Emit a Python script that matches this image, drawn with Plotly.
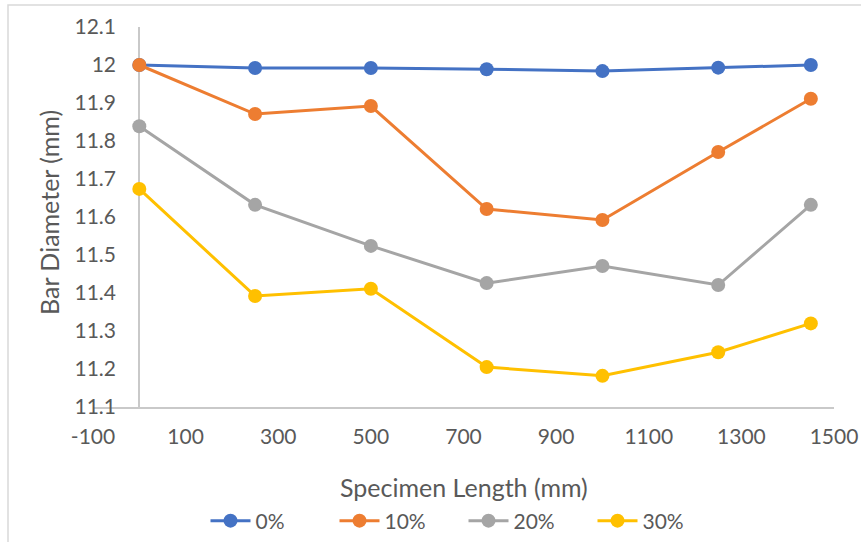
import plotly.graph_objects as go

x_len = [0, 250, 500, 750, 1000, 1250, 1450]
s0 = [12.0, 11.992, 11.992, 11.989, 11.984, 11.993, 12.0]
s10 = [12.0, 11.871, 11.892, 11.621, 11.592, 11.771, 11.911]
s20 = [11.839, 11.632, 11.524, 11.426, 11.471, 11.421, 11.632]
s30 = [11.674, 11.392, 11.411, 11.205, 11.182, 11.244, 11.320]
names = ["0%", "10%", "20%", "30%"]
colors = ["#4472C4", "#ED7D31", "#A5A5A5", "#FFC000"]
x_ticks = [-100, 100, 300, 500, 700, 900, 1100, 1300, 1500]
x_tick_text = ["-100", "100", "300", "500", "700", "900", "1100", "1300", "1500"]
y_ticks = [11.1, 11.2, 11.3, 11.4, 11.5, 11.6, 11.7, 11.8, 11.9, 12.0, 12.1]
y_tick_text = ["11.1", "11.2", "11.3", "11.4", "11.5", "11.6", "11.7", "11.8", "11.9", "12", "12.1"]

FONT = "Lato"
TXT = "#595959"

fig = go.Figure()
for name, ys, c in zip(names, [s0, s10, s20, s30], colors):
    fig.add_trace(go.Scatter(
        x=x_len, y=ys, name=name, mode="lines+markers",
        line=dict(color=c, width=3),
        marker=dict(color=c, size=14),
    ))

fig.update_layout(
    width=861, height=542,
    margin=dict(l=93, r=27, t=27, b=135, autoexpand=False),
    paper_bgcolor="white", plot_bgcolor="white",
    font=dict(family=FONT, size=20, color=TXT),
    showlegend=True,
    legend=dict(orientation="h", x=0.5, xanchor="center", y=(407 - 521) / 380, yanchor="middle",
                font=dict(family=FONT, size=21, color=TXT), itemwidth=40,
                entrywidth=74, entrywidthmode="pixels",
                traceorder="normal"),
    xaxis=dict(range=[-100, 1500], tickvals=x_ticks, ticktext=x_tick_text, showgrid=False,
               zeroline=True, zerolinecolor="#C9C9C9", zerolinewidth=1.5,
               showline=True, linecolor="#C9C9C9", linewidth=1.5,
               ticks="", ticklabelstandoff=10, automargin=False,
               tickfont=dict(family=FONT, size=21, color=TXT)),
    yaxis=dict(range=[11.1, 12.1], tickvals=y_ticks, ticktext=y_tick_text,
               showgrid=False, zeroline=False, showline=False, ticks="",
               ticklabelstandoff=-24, automargin=False,
               tickfont=dict(family=FONT, size=21, color=TXT)),
    annotations=[
        dict(text="Specimen Length (mm)", xref="paper", yref="paper",
             x=0.5, y=(407 - 487) / 380, xanchor="center", yanchor="middle",
             showarrow=False, font=dict(family=FONT, size=25, color=TXT)),
        dict(text="Bar Diameter (mm)", xref="paper", yref="paper",
             x=(49 - 93) / 741, y=0.5 + (217 - 213) / 380, xanchor="center", yanchor="middle",
             textangle=-90, showarrow=False, font=dict(family=FONT, size=25, color=TXT)),
    ],
    shapes=[
        dict(type="rect", xref="paper", yref="paper",
             x0=(8 - 93) / 741, x1=(880 - 93) / 741,
             y0=(407 - 560) / 380, y1=(407 - 5) / 380,
             line=dict(color="#D9D9D9", width=1.5), fillcolor="rgba(0,0,0,0)", layer="below"),
    ],
)

fig.write_html("out.html")
